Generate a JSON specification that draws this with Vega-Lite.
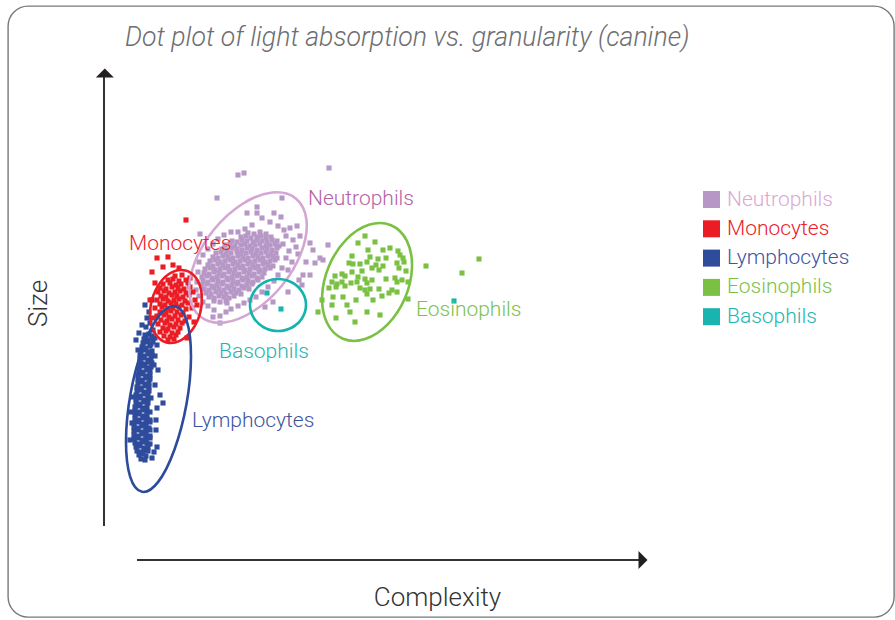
{
  "$schema": "https://vega.github.io/schema/vega-lite/v6.json",
  "width": 886,
  "height": 611,
  "autosize": {"type": "none"},
  "padding": {"left": 8, "top": 6, "right": 1, "bottom": 3},
  "title": {"text": "Dot plot of light absorption vs. granularity (canine)", "anchor": "start", "frame": "group", "dx": 117, "offset": -66.5, "baseline": "alphabetic", "font": "Roboto", "fontStyle": "italic", "fontWeight": 300, "fontSize": 26.7, "color": "#6d6e71"},
  "config": {"view": {"stroke": "#737a7f", "strokeWidth": 1.4, "cornerRadius": 20}, "font": "Roboto"},
  "datasets": {
    "cells": [
      {"cell":"Neutrophils","x":148,"y":327},{"cell":"Neutrophils","x":154,"y":326},{"cell":"Neutrophils","x":160,"y":328},{"cell":"Neutrophils","x":166,"y":326},
      {"cell":"Neutrophils","x":141,"y":323},{"cell":"Neutrophils","x":146,"y":324},{"cell":"Neutrophils","x":151,"y":322},{"cell":"Neutrophils","x":157,"y":323},{"cell":"Neutrophils","x":161,"y":324},{"cell":"Neutrophils","x":166,"y":322},{"cell":"Neutrophils","x":171,"y":323},
      {"cell":"Neutrophils","x":132,"y":319},{"cell":"Neutrophils","x":137,"y":318},{"cell":"Neutrophils","x":142,"y":320},{"cell":"Neutrophils","x":147,"y":319},{"cell":"Neutrophils","x":153,"y":318},{"cell":"Neutrophils","x":157,"y":320},{"cell":"Neutrophils","x":162,"y":319},{"cell":"Neutrophils","x":167,"y":318},{"cell":"Neutrophils","x":172,"y":320},{"cell":"Neutrophils","x":177,"y":319},
      {"cell":"Neutrophils","x":125,"y":315},{"cell":"Neutrophils","x":130,"y":316},{"cell":"Neutrophils","x":135,"y":314},{"cell":"Neutrophils","x":141,"y":315},{"cell":"Neutrophils","x":145,"y":316},{"cell":"Neutrophils","x":150,"y":314},{"cell":"Neutrophils","x":155,"y":315},{"cell":"Neutrophils","x":160,"y":316},{"cell":"Neutrophils","x":166,"y":314},{"cell":"Neutrophils","x":170,"y":315},{"cell":"Neutrophils","x":175,"y":316},{"cell":"Neutrophils","x":179,"y":314},
      {"cell":"Neutrophils","x":122,"y":311},{"cell":"Neutrophils","x":127,"y":310},{"cell":"Neutrophils","x":132,"y":312},{"cell":"Neutrophils","x":137,"y":311},{"cell":"Neutrophils","x":142,"y":310},{"cell":"Neutrophils","x":147,"y":312},{"cell":"Neutrophils","x":152,"y":311},{"cell":"Neutrophils","x":157,"y":310},{"cell":"Neutrophils","x":162,"y":312},{"cell":"Neutrophils","x":167,"y":311},{"cell":"Neutrophils","x":172,"y":310},{"cell":"Neutrophils","x":177,"y":312},
      {"cell":"Neutrophils","x":116,"y":307},{"cell":"Neutrophils","x":121,"y":308},{"cell":"Neutrophils","x":126,"y":306},{"cell":"Neutrophils","x":131,"y":307},{"cell":"Neutrophils","x":137,"y":308},{"cell":"Neutrophils","x":141,"y":306},{"cell":"Neutrophils","x":146,"y":307},{"cell":"Neutrophils","x":151,"y":308},{"cell":"Neutrophils","x":156,"y":306},{"cell":"Neutrophils","x":161,"y":307},{"cell":"Neutrophils","x":166,"y":308},{"cell":"Neutrophils","x":171,"y":306},{"cell":"Neutrophils","x":176,"y":307},
      {"cell":"Neutrophils","x":113,"y":303},{"cell":"Neutrophils","x":118,"y":302},{"cell":"Neutrophils","x":123,"y":304},{"cell":"Neutrophils","x":128,"y":303},{"cell":"Neutrophils","x":133,"y":302},{"cell":"Neutrophils","x":138,"y":304},{"cell":"Neutrophils","x":143,"y":303},{"cell":"Neutrophils","x":148,"y":302},{"cell":"Neutrophils","x":153,"y":304},{"cell":"Neutrophils","x":158,"y":303},{"cell":"Neutrophils","x":163,"y":302},{"cell":"Neutrophils","x":168,"y":304},{"cell":"Neutrophils","x":173,"y":303},{"cell":"Neutrophils","x":177,"y":302},
      {"cell":"Neutrophils","x":110,"y":299},{"cell":"Neutrophils","x":115,"y":300},{"cell":"Neutrophils","x":120,"y":298},{"cell":"Neutrophils","x":125,"y":299},{"cell":"Neutrophils","x":130,"y":300},{"cell":"Neutrophils","x":135,"y":298},{"cell":"Neutrophils","x":140,"y":299},{"cell":"Neutrophils","x":145,"y":300},{"cell":"Neutrophils","x":150,"y":298},{"cell":"Neutrophils","x":155,"y":299},{"cell":"Neutrophils","x":160,"y":300},{"cell":"Neutrophils","x":165,"y":298},{"cell":"Neutrophils","x":170,"y":299},{"cell":"Neutrophils","x":175,"y":300},
      {"cell":"Neutrophils","x":108,"y":295},{"cell":"Neutrophils","x":113,"y":294},{"cell":"Neutrophils","x":118,"y":296},{"cell":"Neutrophils","x":123,"y":295},{"cell":"Neutrophils","x":128,"y":294},{"cell":"Neutrophils","x":133,"y":296},{"cell":"Neutrophils","x":138,"y":295},{"cell":"Neutrophils","x":143,"y":294},{"cell":"Neutrophils","x":148,"y":296},{"cell":"Neutrophils","x":153,"y":295},{"cell":"Neutrophils","x":158,"y":294},{"cell":"Neutrophils","x":163,"y":296},{"cell":"Neutrophils","x":168,"y":295},{"cell":"Neutrophils","x":173,"y":294},
      {"cell":"Neutrophils","x":105,"y":291},{"cell":"Neutrophils","x":110,"y":292},{"cell":"Neutrophils","x":115,"y":290},{"cell":"Neutrophils","x":120,"y":291},{"cell":"Neutrophils","x":125,"y":292},{"cell":"Neutrophils","x":130,"y":290},{"cell":"Neutrophils","x":135,"y":291},{"cell":"Neutrophils","x":140,"y":292},{"cell":"Neutrophils","x":145,"y":290},{"cell":"Neutrophils","x":150,"y":291},{"cell":"Neutrophils","x":155,"y":292},{"cell":"Neutrophils","x":160,"y":290},{"cell":"Neutrophils","x":165,"y":291},{"cell":"Neutrophils","x":170,"y":292},
      {"cell":"Neutrophils","x":104,"y":287},{"cell":"Neutrophils","x":109,"y":286},{"cell":"Neutrophils","x":114,"y":288},{"cell":"Neutrophils","x":119,"y":287},{"cell":"Neutrophils","x":124,"y":286},{"cell":"Neutrophils","x":129,"y":288},{"cell":"Neutrophils","x":134,"y":287},{"cell":"Neutrophils","x":139,"y":286},{"cell":"Neutrophils","x":144,"y":288},{"cell":"Neutrophils","x":149,"y":287},{"cell":"Neutrophils","x":154,"y":286},{"cell":"Neutrophils","x":159,"y":288},{"cell":"Neutrophils","x":164,"y":287},
      {"cell":"Neutrophils","x":102,"y":283},{"cell":"Neutrophils","x":107,"y":284},{"cell":"Neutrophils","x":112,"y":282},{"cell":"Neutrophils","x":117,"y":283},{"cell":"Neutrophils","x":122,"y":284},{"cell":"Neutrophils","x":127,"y":282},{"cell":"Neutrophils","x":132,"y":283},{"cell":"Neutrophils","x":137,"y":284},{"cell":"Neutrophils","x":142,"y":282},{"cell":"Neutrophils","x":147,"y":283},{"cell":"Neutrophils","x":152,"y":284},{"cell":"Neutrophils","x":157,"y":282},{"cell":"Neutrophils","x":162,"y":283},
      {"cell":"Neutrophils","x":103,"y":279},{"cell":"Neutrophils","x":108,"y":278},{"cell":"Neutrophils","x":113,"y":280},{"cell":"Neutrophils","x":118,"y":279},{"cell":"Neutrophils","x":123,"y":278},{"cell":"Neutrophils","x":128,"y":280},{"cell":"Neutrophils","x":133,"y":279},{"cell":"Neutrophils","x":138,"y":278},{"cell":"Neutrophils","x":143,"y":280},{"cell":"Neutrophils","x":148,"y":279},{"cell":"Neutrophils","x":153,"y":278},{"cell":"Neutrophils","x":158,"y":280},
      {"cell":"Neutrophils","x":102,"y":275},{"cell":"Neutrophils","x":107,"y":276},{"cell":"Neutrophils","x":112,"y":274},{"cell":"Neutrophils","x":117,"y":275},{"cell":"Neutrophils","x":122,"y":276},{"cell":"Neutrophils","x":127,"y":274},{"cell":"Neutrophils","x":132,"y":275},{"cell":"Neutrophils","x":137,"y":276},{"cell":"Neutrophils","x":142,"y":274},{"cell":"Neutrophils","x":147,"y":275},{"cell":"Neutrophils","x":152,"y":276},
      {"cell":"Neutrophils","x":104,"y":271},{"cell":"Neutrophils","x":109,"y":270},{"cell":"Neutrophils","x":114,"y":272},{"cell":"Neutrophils","x":119,"y":271},{"cell":"Neutrophils","x":124,"y":270},{"cell":"Neutrophils","x":129,"y":272},{"cell":"Neutrophils","x":134,"y":271},{"cell":"Neutrophils","x":139,"y":270},{"cell":"Neutrophils","x":144,"y":272},{"cell":"Neutrophils","x":149,"y":271},
      {"cell":"Neutrophils","x":106,"y":267},{"cell":"Neutrophils","x":111,"y":266},{"cell":"Neutrophils","x":116,"y":268},{"cell":"Neutrophils","x":121,"y":267},{"cell":"Neutrophils","x":126,"y":266},{"cell":"Neutrophils","x":131,"y":268},{"cell":"Neutrophils","x":136,"y":267},{"cell":"Neutrophils","x":141,"y":266},
      {"cell":"Neutrophils","x":109,"y":263},{"cell":"Neutrophils","x":114,"y":262},{"cell":"Neutrophils","x":119,"y":264},{"cell":"Neutrophils","x":124,"y":263},{"cell":"Neutrophils","x":129,"y":262},{"cell":"Neutrophils","x":134,"y":264},
      {"cell":"Neutrophils","x":114,"y":259},{"cell":"Neutrophils","x":120,"y":258},{"cell":"Neutrophils","x":126,"y":259},
      {"cell":"Neutrophils","x":162,"y":342},{"cell":"Neutrophils","x":170,"y":338},{"cell":"Neutrophils","x":178,"y":334},{"cell":"Neutrophils","x":184,"y":330},{"cell":"Neutrophils","x":190,"y":332},{"cell":"Neutrophils","x":186,"y":324},{"cell":"Neutrophils","x":193,"y":320},{"cell":"Neutrophils","x":196,"y":313},{"cell":"Neutrophils","x":189,"y":309},{"cell":"Neutrophils","x":183,"y":316},{"cell":"Neutrophils","x":200,"y":324},{"cell":"Neutrophils","x":197,"y":334},{"cell":"Neutrophils","x":181,"y":343},{"cell":"Neutrophils","x":152,"y":335},{"cell":"Neutrophils","x":145,"y":331},{"cell":"Neutrophils","x":138,"y":328},{"cell":"Neutrophils","x":157,"y":347},{"cell":"Neutrophils","x":174,"y":347},{"cell":"Neutrophils","x":198,"y":306},{"cell":"Neutrophils","x":192,"y":298},{"cell":"Neutrophils","x":186,"y":302},{"cell":"Neutrophils","x":182,"y":292},{"cell":"Neutrophils","x":178,"y":285},{"cell":"Neutrophils","x":188,"y":290},{"cell":"Neutrophils","x":174,"y":279},{"cell":"Neutrophils","x":168,"y":273},{"cell":"Neutrophils","x":162,"y":268},{"cell":"Neutrophils","x":156,"y":263},{"cell":"Neutrophils","x":150,"y":260},{"cell":"Neutrophils","x":144,"y":257},{"cell":"Neutrophils","x":138,"y":254},{"cell":"Neutrophils","x":131,"y":251},{"cell":"Neutrophils","x":126,"y":248},{"cell":"Neutrophils","x":120,"y":244},{"cell":"Neutrophils","x":99,"y":298},{"cell":"Neutrophils","x":103,"y":305},{"cell":"Neutrophils","x":108,"y":311},{"cell":"Neutrophils","x":113,"y":316},{"cell":"Neutrophils","x":118,"y":321},{"cell":"Neutrophils","x":124,"y":325},{"cell":"Neutrophils","x":131,"y":328},{"cell":"Neutrophils","x":98,"y":288},{"cell":"Neutrophils","x":97,"y":278},{"cell":"Neutrophils","x":96,"y":270},{"cell":"Neutrophils","x":99,"y":264},{"cell":"Neutrophils","x":103,"y":258},{"cell":"Neutrophils","x":108,"y":254},{"cell":"Neutrophils","x":114,"y":250},{"cell":"Neutrophils","x":127,"y":257},{"cell":"Neutrophils","x":113,"y":243},{"cell":"Neutrophils","x":120,"y":237},{"cell":"Neutrophils","x":165,"y":253},{"cell":"Neutrophils","x":188,"y":268},{"cell":"Neutrophils","x":202,"y":275},{"cell":"Neutrophils","x":203,"y":285},{"cell":"Neutrophils","x":199,"y":280},
      {"cell":"Neutrophils","x":138,"y":385},{"cell":"Neutrophils","x":144,"y":387},{"cell":"Neutrophils","x":229,"y":392},{"cell":"Neutrophils","x":117,"y":362},{"cell":"Neutrophils","x":182,"y":362},{"cell":"Neutrophils","x":157,"y":353},{"cell":"Neutrophils","x":147,"y":347},{"cell":"Neutrophils","x":213,"y":310},{"cell":"Neutrophils","x":223,"y":300},{"cell":"Neutrophils","x":210,"y":317},{"cell":"Neutrophils","x":228,"y":315},{"cell":"Neutrophils","x":220,"y":302},{"cell":"Neutrophils","x":215,"y":297},{"cell":"Neutrophils","x":210,"y":285},{"cell":"Neutrophils","x":100,"y":326},{"cell":"Neutrophils","x":206,"y":298},{"cell":"Neutrophils","x":173,"y":258},
      {"cell":"Eosinophils","x":265,"y":324},{"cell":"Eosinophils","x":268,"y":310},{"cell":"Eosinophils","x":283,"y":310},{"cell":"Eosinophils","x":290,"y":312},{"cell":"Eosinophils","x":298,"y":309},{"cell":"Eosinophils","x":300,"y":305},{"cell":"Eosinophils","x":270,"y":303},{"cell":"Eosinophils","x":278,"y":301},{"cell":"Eosinophils","x":286,"y":302},{"cell":"Eosinophils","x":303,"y":302},{"cell":"Eosinophils","x":304,"y":298},{"cell":"Eosinophils","x":249,"y":297},{"cell":"Eosinophils","x":253,"y":296},{"cell":"Eosinophils","x":260,"y":296},{"cell":"Eosinophils","x":267,"y":298},{"cell":"Eosinophils","x":272,"y":292},{"cell":"Eosinophils","x":276,"y":295},{"cell":"Eosinophils","x":279,"y":290},{"cell":"Eosinophils","x":283,"y":294},{"cell":"Eosinophils","x":297,"y":297},{"cell":"Eosinophils","x":299,"y":292},{"cell":"Eosinophils","x":306,"y":289},{"cell":"Eosinophils","x":262,"y":289},{"cell":"Eosinophils","x":252,"y":288},{"cell":"Eosinophils","x":242,"y":286},{"cell":"Eosinophils","x":235,"y":284},{"cell":"Eosinophils","x":245,"y":284},{"cell":"Eosinophils","x":258,"y":283},{"cell":"Eosinophils","x":265,"y":281},{"cell":"Eosinophils","x":267,"y":277},{"cell":"Eosinophils","x":272,"y":280},{"cell":"Eosinophils","x":286,"y":281},{"cell":"Eosinophils","x":295,"y":282},{"cell":"Eosinophils","x":297,"y":278},{"cell":"Eosinophils","x":302,"y":280},{"cell":"Eosinophils","x":308,"y":278},{"cell":"Eosinophils","x":232,"y":278},{"cell":"Eosinophils","x":237,"y":276},{"cell":"Eosinophils","x":242,"y":278},{"cell":"Eosinophils","x":245,"y":274},{"cell":"Eosinophils","x":251,"y":277},{"cell":"Eosinophils","x":257,"y":278},{"cell":"Eosinophils","x":260,"y":272},{"cell":"Eosinophils","x":265,"y":270},{"cell":"Eosinophils","x":270,"y":271},{"cell":"Eosinophils","x":279,"y":271},{"cell":"Eosinophils","x":292,"y":270},{"cell":"Eosinophils","x":297,"y":268},{"cell":"Eosinophils","x":236,"y":273},{"cell":"Eosinophils","x":229,"y":272},{"cell":"Eosinophils","x":233,"y":263},{"cell":"Eosinophils","x":243,"y":263},{"cell":"Eosinophils","x":256,"y":260},{"cell":"Eosinophils","x":267,"y":266},{"cell":"Eosinophils","x":273,"y":260},{"cell":"Eosinophils","x":282,"y":264},{"cell":"Eosinophils","x":289,"y":267},{"cell":"Eosinophils","x":222,"y":260},{"cell":"Eosinophils","x":232,"y":255},{"cell":"Eosinophils","x":247,"y":255},{"cell":"Eosinophils","x":218,"y":248},{"cell":"Eosinophils","x":267,"y":248},{"cell":"Eosinophils","x":308,"y":261},{"cell":"Eosinophils","x":326,"y":294},{"cell":"Eosinophils","x":362,"y":287},{"cell":"Eosinophils","x":379,"y":301},{"cell":"Eosinophils","x":236,"y":242},{"cell":"Eosinophils","x":255,"y":238},{"cell":"Eosinophils","x":280,"y":245},{"cell":"Eosinophils","x":250,"y":248},{"cell":"Eosinophils","x":258,"y":317},{"cell":"Eosinophils","x":275,"y":318},{"cell":"Eosinophils","x":252,"y":304},
      {"cell":"Lymphocytes","x":45,"y":225},{"cell":"Lymphocytes","x":49,"y":226},{"cell":"Lymphocytes","x":52,"y":224},
      {"cell":"Lymphocytes","x":44,"y":221},{"cell":"Lymphocytes","x":48,"y":220},{"cell":"Lymphocytes","x":52,"y":222},
      {"cell":"Lymphocytes","x":43,"y":217},{"cell":"Lymphocytes","x":47,"y":218},{"cell":"Lymphocytes","x":51,"y":216},
      {"cell":"Lymphocytes","x":42,"y":213},{"cell":"Lymphocytes","x":46,"y":212},{"cell":"Lymphocytes","x":50,"y":214},
      {"cell":"Lymphocytes","x":41,"y":209},{"cell":"Lymphocytes","x":45,"y":210},{"cell":"Lymphocytes","x":49,"y":208},{"cell":"Lymphocytes","x":52,"y":209},
      {"cell":"Lymphocytes","x":40,"y":205},{"cell":"Lymphocytes","x":44,"y":204},{"cell":"Lymphocytes","x":48,"y":206},{"cell":"Lymphocytes","x":52,"y":205},
      {"cell":"Lymphocytes","x":40,"y":201},{"cell":"Lymphocytes","x":44,"y":202},{"cell":"Lymphocytes","x":48,"y":200},{"cell":"Lymphocytes","x":51,"y":201},
      {"cell":"Lymphocytes","x":41,"y":197},{"cell":"Lymphocytes","x":45,"y":196},{"cell":"Lymphocytes","x":49,"y":198},{"cell":"Lymphocytes","x":52,"y":197},
      {"cell":"Lymphocytes","x":39,"y":193},{"cell":"Lymphocytes","x":43,"y":194},{"cell":"Lymphocytes","x":47,"y":192},{"cell":"Lymphocytes","x":51,"y":193},
      {"cell":"Lymphocytes","x":39,"y":189},{"cell":"Lymphocytes","x":43,"y":188},{"cell":"Lymphocytes","x":47,"y":190},{"cell":"Lymphocytes","x":50,"y":189},
      {"cell":"Lymphocytes","x":38,"y":185},{"cell":"Lymphocytes","x":42,"y":186},{"cell":"Lymphocytes","x":46,"y":184},{"cell":"Lymphocytes","x":50,"y":185},
      {"cell":"Lymphocytes","x":38,"y":181},{"cell":"Lymphocytes","x":42,"y":180},{"cell":"Lymphocytes","x":46,"y":182},{"cell":"Lymphocytes","x":50,"y":181},
      {"cell":"Lymphocytes","x":38,"y":177},{"cell":"Lymphocytes","x":42,"y":178},{"cell":"Lymphocytes","x":46,"y":176},{"cell":"Lymphocytes","x":49,"y":177},
      {"cell":"Lymphocytes","x":37,"y":173},{"cell":"Lymphocytes","x":41,"y":172},{"cell":"Lymphocytes","x":45,"y":174},{"cell":"Lymphocytes","x":49,"y":173},
      {"cell":"Lymphocytes","x":37,"y":169},{"cell":"Lymphocytes","x":41,"y":170},{"cell":"Lymphocytes","x":45,"y":168},{"cell":"Lymphocytes","x":49,"y":169},
      {"cell":"Lymphocytes","x":36,"y":165},{"cell":"Lymphocytes","x":40,"y":164},{"cell":"Lymphocytes","x":44,"y":166},{"cell":"Lymphocytes","x":48,"y":165},
      {"cell":"Lymphocytes","x":36,"y":161},{"cell":"Lymphocytes","x":40,"y":162},{"cell":"Lymphocytes","x":44,"y":160},{"cell":"Lymphocytes","x":48,"y":161},{"cell":"Lymphocytes","x":51,"y":162},
      {"cell":"Lymphocytes","x":36,"y":157},{"cell":"Lymphocytes","x":40,"y":156},{"cell":"Lymphocytes","x":44,"y":158},{"cell":"Lymphocytes","x":48,"y":157},
      {"cell":"Lymphocytes","x":35,"y":153},{"cell":"Lymphocytes","x":39,"y":154},{"cell":"Lymphocytes","x":43,"y":152},{"cell":"Lymphocytes","x":47,"y":153},
      {"cell":"Lymphocytes","x":35,"y":149},{"cell":"Lymphocytes","x":39,"y":148},{"cell":"Lymphocytes","x":43,"y":150},{"cell":"Lymphocytes","x":47,"y":149},{"cell":"Lymphocytes","x":50,"y":148},
      {"cell":"Lymphocytes","x":35,"y":145},{"cell":"Lymphocytes","x":39,"y":146},{"cell":"Lymphocytes","x":43,"y":144},{"cell":"Lymphocytes","x":47,"y":145},
      {"cell":"Lymphocytes","x":35,"y":141},{"cell":"Lymphocytes","x":39,"y":140},{"cell":"Lymphocytes","x":43,"y":142},{"cell":"Lymphocytes","x":47,"y":141},{"cell":"Lymphocytes","x":50,"y":140},
      {"cell":"Lymphocytes","x":34,"y":137},{"cell":"Lymphocytes","x":38,"y":138},{"cell":"Lymphocytes","x":42,"y":136},{"cell":"Lymphocytes","x":46,"y":137},{"cell":"Lymphocytes","x":50,"y":138},
      {"cell":"Lymphocytes","x":34,"y":133},{"cell":"Lymphocytes","x":38,"y":132},{"cell":"Lymphocytes","x":42,"y":134},{"cell":"Lymphocytes","x":46,"y":133},{"cell":"Lymphocytes","x":49,"y":132},
      {"cell":"Lymphocytes","x":34,"y":129},{"cell":"Lymphocytes","x":38,"y":130},{"cell":"Lymphocytes","x":42,"y":128},{"cell":"Lymphocytes","x":46,"y":129},{"cell":"Lymphocytes","x":50,"y":130},
      {"cell":"Lymphocytes","x":34,"y":125},{"cell":"Lymphocytes","x":38,"y":124},{"cell":"Lymphocytes","x":42,"y":126},{"cell":"Lymphocytes","x":46,"y":125},{"cell":"Lymphocytes","x":50,"y":124},
      {"cell":"Lymphocytes","x":34,"y":121},{"cell":"Lymphocytes","x":38,"y":122},{"cell":"Lymphocytes","x":42,"y":120},{"cell":"Lymphocytes","x":46,"y":121},{"cell":"Lymphocytes","x":50,"y":122},
      {"cell":"Lymphocytes","x":35,"y":117},{"cell":"Lymphocytes","x":39,"y":116},{"cell":"Lymphocytes","x":43,"y":118},{"cell":"Lymphocytes","x":47,"y":117},{"cell":"Lymphocytes","x":50,"y":116},
      {"cell":"Lymphocytes","x":36,"y":113},{"cell":"Lymphocytes","x":40,"y":114},{"cell":"Lymphocytes","x":44,"y":112},{"cell":"Lymphocytes","x":48,"y":113},
      {"cell":"Lymphocytes","x":37,"y":109},{"cell":"Lymphocytes","x":41,"y":108},{"cell":"Lymphocytes","x":45,"y":110},{"cell":"Lymphocytes","x":48,"y":109},
      {"cell":"Lymphocytes","x":39,"y":105},{"cell":"Lymphocytes","x":43,"y":106},{"cell":"Lymphocytes","x":46,"y":104},
      {"cell":"Lymphocytes","x":47,"y":242},{"cell":"Lymphocytes","x":50,"y":237},{"cell":"Lymphocytes","x":46,"y":233},{"cell":"Lymphocytes","x":53,"y":230},{"cell":"Lymphocytes","x":55,"y":222},{"cell":"Lymphocytes","x":57,"y":215},{"cell":"Lymphocytes","x":38,"y":210},{"cell":"Lymphocytes","x":55,"y":204},{"cell":"Lymphocytes","x":58,"y":190},{"cell":"Lymphocytes","x":60,"y":165},{"cell":"Lymphocytes","x":63,"y":157},{"cell":"Lymphocytes","x":57,"y":152},{"cell":"Lymphocytes","x":33,"y":163},{"cell":"Lymphocytes","x":32,"y":137},{"cell":"Lymphocytes","x":31,"y":148},{"cell":"Lymphocytes","x":56,"y":130},{"cell":"Lymphocytes","x":57,"y":113},{"cell":"Lymphocytes","x":54,"y":108},{"cell":"Lymphocytes","x":45,"y":100},{"cell":"Lymphocytes","x":52,"y":102},{"cell":"Lymphocytes","x":41,"y":101},{"cell":"Lymphocytes","x":30,"y":120},{"cell":"Lymphocytes","x":56,"y":140},{"cell":"Lymphocytes","x":55,"y":175},{"cell":"Lymphocytes","x":54,"y":195},{"cell":"Lymphocytes","x":52,"y":260},{"cell":"Lymphocytes","x":42,"y":235},{"cell":"Lymphocytes","x":39,"y":227},{"cell":"Lymphocytes","x":36,"y":220},{"cell":"Lymphocytes","x":49,"y":248},{"cell":"Lymphocytes","x":45,"y":255},{"cell":"Lymphocytes","x":53,"y":218},
      {"cell":"Monocytes","x":75,"y":284},{"cell":"Monocytes","x":82,"y":285},
      {"cell":"Monocytes","x":68,"y":280},{"cell":"Monocytes","x":73,"y":281},{"cell":"Monocytes","x":79,"y":279},{"cell":"Monocytes","x":86,"y":280},
      {"cell":"Monocytes","x":63,"y":276},{"cell":"Monocytes","x":70,"y":277},{"cell":"Monocytes","x":76,"y":275},{"cell":"Monocytes","x":81,"y":276},{"cell":"Monocytes","x":88,"y":277},
      {"cell":"Monocytes","x":60,"y":272},{"cell":"Monocytes","x":66,"y":271},{"cell":"Monocytes","x":72,"y":273},{"cell":"Monocytes","x":78,"y":272},{"cell":"Monocytes","x":84,"y":271},{"cell":"Monocytes","x":90,"y":273},
      {"cell":"Monocytes","x":58,"y":268},{"cell":"Monocytes","x":64,"y":269},{"cell":"Monocytes","x":69,"y":267},{"cell":"Monocytes","x":75,"y":268},{"cell":"Monocytes","x":80,"y":269},{"cell":"Monocytes","x":86,"y":267},{"cell":"Monocytes","x":93,"y":268},
      {"cell":"Monocytes","x":61,"y":264},{"cell":"Monocytes","x":66,"y":263},{"cell":"Monocytes","x":72,"y":265},{"cell":"Monocytes","x":77,"y":264},{"cell":"Monocytes","x":83,"y":263},{"cell":"Monocytes","x":89,"y":265},
      {"cell":"Monocytes","x":57,"y":260},{"cell":"Monocytes","x":63,"y":261},{"cell":"Monocytes","x":68,"y":259},{"cell":"Monocytes","x":74,"y":260},{"cell":"Monocytes","x":79,"y":261},{"cell":"Monocytes","x":85,"y":259},{"cell":"Monocytes","x":95,"y":260},
      {"cell":"Monocytes","x":60,"y":256},{"cell":"Monocytes","x":65,"y":255},{"cell":"Monocytes","x":71,"y":257},{"cell":"Monocytes","x":76,"y":256},{"cell":"Monocytes","x":82,"y":255},{"cell":"Monocytes","x":88,"y":257},
      {"cell":"Monocytes","x":55,"y":252},{"cell":"Monocytes","x":62,"y":253},{"cell":"Monocytes","x":68,"y":251},{"cell":"Monocytes","x":73,"y":252},{"cell":"Monocytes","x":79,"y":253},{"cell":"Monocytes","x":86,"y":251},{"cell":"Monocytes","x":92,"y":252},
      {"cell":"Monocytes","x":60,"y":248},{"cell":"Monocytes","x":66,"y":247},{"cell":"Monocytes","x":71,"y":249},{"cell":"Monocytes","x":77,"y":248},{"cell":"Monocytes","x":83,"y":247},
      {"cell":"Monocytes","x":57,"y":244},{"cell":"Monocytes","x":64,"y":245},{"cell":"Monocytes","x":69,"y":243},{"cell":"Monocytes","x":75,"y":244},{"cell":"Monocytes","x":81,"y":245},{"cell":"Monocytes","x":89,"y":243},
      {"cell":"Monocytes","x":61,"y":240},{"cell":"Monocytes","x":67,"y":239},{"cell":"Monocytes","x":72,"y":241},{"cell":"Monocytes","x":78,"y":240},{"cell":"Monocytes","x":85,"y":239},
      {"cell":"Monocytes","x":58,"y":236},{"cell":"Monocytes","x":65,"y":237},{"cell":"Monocytes","x":70,"y":235},{"cell":"Monocytes","x":76,"y":236},{"cell":"Monocytes","x":82,"y":237},
      {"cell":"Monocytes","x":63,"y":232},{"cell":"Monocytes","x":68,"y":231},{"cell":"Monocytes","x":74,"y":233},{"cell":"Monocytes","x":80,"y":232},
      {"cell":"Monocytes","x":60,"y":228},{"cell":"Monocytes","x":66,"y":229},{"cell":"Monocytes","x":72,"y":227},{"cell":"Monocytes","x":78,"y":228},
      {"cell":"Monocytes","x":64,"y":224},{"cell":"Monocytes","x":70,"y":223},{"cell":"Monocytes","x":76,"y":225},
      {"cell":"Monocytes","x":68,"y":220},{"cell":"Monocytes","x":74,"y":221},
      {"cell":"Monocytes","x":86,"y":340},{"cell":"Monocytes","x":57,"y":302},{"cell":"Monocytes","x":68,"y":303},{"cell":"Monocytes","x":73,"y":295},{"cell":"Monocytes","x":79,"y":292},{"cell":"Monocytes","x":63,"y":293},{"cell":"Monocytes","x":52,"y":288},{"cell":"Monocytes","x":55,"y":277},{"cell":"Monocytes","x":94,"y":238},{"cell":"Monocytes","x":97,"y":255},{"cell":"Monocytes","x":87,"y":222},{"cell":"Monocytes","x":50,"y":260},{"cell":"Monocytes","x":90,"y":282},{"cell":"Monocytes","x":53,"y":242},
      {"cell":"Basophils","x":167,"y":267},{"cell":"Basophils","x":181,"y":251},{"cell":"Basophils","x":354,"y":259}
    ],
    "gates": [
      {"cell":"Neutrophils","i":0,"x":195.8,"y":361.6},{"cell":"Neutrophils","i":1,"x":206.5,"y":339.8},{"cell":"Neutrophils","i":2,"x":201.5,"y":308.1},{"cell":"Neutrophils","i":3,"x":182.2,"y":274.8},{"cell":"Neutrophils","i":4,"x":153.7,"y":249.0},{"cell":"Neutrophils","i":5,"x":123.7,"y":237.4},{"cell":"Neutrophils","i":6,"x":100.2,"y":243.4},{"cell":"Neutrophils","i":7,"x":89.5,"y":265.1},{"cell":"Neutrophils","i":8,"x":94.5,"y":296.9},{"cell":"Neutrophils","i":9,"x":113.8,"y":330.2},{"cell":"Neutrophils","i":10,"x":142.3,"y":356.0},{"cell":"Neutrophils","i":11,"x":172.3,"y":367.5},
      {"cell":"Monocytes","i":0,"x":85.6,"y":289.4},{"cell":"Monocytes","i":1,"x":96.4,"y":281.4},{"cell":"Monocytes","i":2,"x":101.7,"y":265.9},{"cell":"Monocytes","i":3,"x":100.2,"y":247.0},{"cell":"Monocytes","i":4,"x":92.1,"y":230.0},{"cell":"Monocytes","i":5,"x":79.8,"y":219.2},{"cell":"Monocytes","i":6,"x":66.4,"y":217.6},{"cell":"Monocytes","i":7,"x":55.6,"y":225.7},{"cell":"Monocytes","i":8,"x":50.3,"y":241.2},{"cell":"Monocytes","i":9,"x":51.9,"y":260.0},{"cell":"Monocytes","i":10,"x":59.9,"y":277.1},{"cell":"Monocytes","i":11,"x":72.2,"y":287.9},
      {"cell":"Lymphocytes","i":0,"x":75.0,"y":253.8},{"cell":"Lymphocytes","i":1,"x":86.8,"y":238.9},{"cell":"Lymphocytes","i":2,"x":91.0,"y":203.1},{"cell":"Lymphocytes","i":3,"x":86.5,"y":156.0},{"cell":"Lymphocytes","i":4,"x":74.4,"y":110.3},{"cell":"Lymphocytes","i":5,"x":58.2,"y":78.1},{"cell":"Lymphocytes","i":6,"x":42.0,"y":68.2},{"cell":"Lymphocytes","i":7,"x":30.2,"y":83.1},{"cell":"Lymphocytes","i":8,"x":26.0,"y":118.9},{"cell":"Lymphocytes","i":9,"x":30.5,"y":166.0},{"cell":"Lymphocytes","i":10,"x":42.6,"y":211.7},{"cell":"Lymphocytes","i":11,"x":58.8,"y":243.9},
      {"cell":"Basophils","i":0,"x":206,"y":255},{"cell":"Basophils","i":1,"x":202.2,"y":268},{"cell":"Basophils","i":2,"x":192,"y":277.5},{"cell":"Basophils","i":3,"x":178,"y":281},{"cell":"Basophils","i":4,"x":164,"y":277.5},{"cell":"Basophils","i":5,"x":153.8,"y":268},{"cell":"Basophils","i":6,"x":150,"y":255},{"cell":"Basophils","i":7,"x":153.8,"y":242},{"cell":"Basophils","i":8,"x":164,"y":232.5},{"cell":"Basophils","i":9,"x":178,"y":229},{"cell":"Basophils","i":10,"x":192,"y":232.5},{"cell":"Basophils","i":11,"x":202.2,"y":242},
      {"cell":"Eosinophils","i":0,"x":291.1,"y":334.7},{"cell":"Eosinophils","i":1,"x":306.9,"y":319.1},{"cell":"Eosinophils","i":2,"x":312.0,"y":292.5},{"cell":"Eosinophils","i":3,"x":305.0,"y":261.9},{"cell":"Eosinophils","i":4,"x":287.9,"y":235.8},{"cell":"Eosinophils","i":5,"x":265.1,"y":220.9},{"cell":"Eosinophils","i":6,"x":242.9,"y":221.3},{"cell":"Eosinophils","i":7,"x":227.1,"y":237.0},{"cell":"Eosinophils","i":8,"x":222.1,"y":263.6},{"cell":"Eosinophils","i":9,"x":229.0,"y":294.1},{"cell":"Eosinophils","i":10,"x":246.2,"y":320.3},{"cell":"Eosinophils","i":11,"x":268.9,"y":335.2}
    ],
    "labels": [
      {"cell":"Neutrophils","label":"Neutrophils","x":208,"y":355},
      {"cell":"Monocytes","label":"Monocytes","x":29,"y":310},
      {"cell":"Basophils","label":"Basophils","x":119,"y":202},
      {"cell":"Lymphocytes","label":"Lymphocytes","x":92,"y":133},
      {"cell":"Eosinophils","label":"Eosinophils","x":316,"y":244}
    ],
    "arrows": [
      {"axis":"x","x":37,"y":0,"x2":539,"y2":0},
      {"axis":"y","x":4,"y":34,"x2":4,"y2":483}
    ],
    "heads": [
      {"axis":"x","x":543,"y":0},
      {"axis":"y","x":4.8,"y":487}
    ]
  },
  "encoding": {
    "x": {"field": "x", "type": "quantitative", "scale": {"domain": [-92, 794], "nice": false, "zero": false},
      "axis": {"title": "Complexity", "domain": false, "ticks": false, "labels": false, "grid": false, "titleX": 429, "titleY": -12, "titleAlign": "center", "titleBaseline": "alphabetic", "titleFont": "Roboto", "titleFontWeight": 300, "titleFontSize": 26, "titleColor": "#333333"}},
    "y": {"field": "y", "type": "quantitative", "scale": {"domain": [-57, 554], "nice": false, "zero": false},
      "axis": {"title": "Size", "domain": false, "ticks": false, "labels": false, "grid": false, "titleX": 30, "titleY": 297, "titleAngle": -90, "titleAlign": "center", "titleBaseline": "middle", "titleFont": "Roboto", "titleFontWeight": 300, "titleFontSize": 26, "titleColor": "#333333"}}
  },
  "layer": [
    {
      "data": {"name": "cells"},
      "mark": {"type": "point", "shape": "square", "filled": true, "size": 26, "opacity": 1, "strokeWidth": 0},
      "encoding": {
        "color": {"field": "cell", "type": "nominal",
          "scale": {"domain": ["Neutrophils", "Monocytes", "Lymphocytes", "Eosinophils", "Basophils"], "range": ["#b797c6", "#ec1c24", "#2f4b9c", "#7ac143", "#19b4b0"]},
          "legend": {"orient": "none", "legendX": 693, "legendY": 183, "title": null, "symbolType": "square", "symbolSize": 289, "symbolStrokeWidth": 0, "symbolOpacity": 1, "labelFont": "Roboto", "labelFontWeight": 300, "labelFontSize": 21, "labelOffset": 5, "rowPadding": 7.3, "padding": 0,
            "encode": {
              "symbols": {"update": {"fill": {"signal": "datum.value === 'Neutrophils' ? '#b6519f' : datum.value === 'Monocytes' ? '#ec1c24' : datum.value === 'Lymphocytes' ? '#2f4b9c' : datum.value === 'Eosinophils' ? '#7ac143' : '#19b4b0'"}, "stroke": {"value": null}}},
              "labels": {"update": {"fill": {"signal": "datum.value === 'Neutrophils' ? '#dba8d3' : datum.value === 'Monocytes' ? '#ec2027' : datum.value === 'Lymphocytes' ? '#3c54a3' : datum.value === 'Eosinophils' ? '#7cc14a' : '#1fb5b1'"}}}
            }}}
      }
    },
    {
      "data": {"name": "gates"},
      "mark": {"type": "line", "interpolate": "cardinal-closed", "strokeWidth": 2.6},
      "encoding": {
        "stroke": {"field": "cell", "type": "nominal", "legend": null,
          "scale": {"domain": ["Neutrophils", "Monocytes", "Lymphocytes", "Eosinophils", "Basophils"], "range": ["#d4a6d3", "#ec1c24", "#2c4b9b", "#7ac143", "#16b2ae"]}},
        "order": {"field": "i", "type": "quantitative"}
      }
    },
    {
      "data": {"name": "labels"},
      "mark": {"type": "text", "align": "left", "baseline": "alphabetic", "font": "Roboto", "fontWeight": 300, "fontSize": 21},
      "encoding": {
        "text": {"field": "label"},
        "fill": {"field": "cell", "type": "nominal", "legend": null,
          "scale": {"domain": ["Neutrophils", "Monocytes", "Lymphocytes", "Eosinophils", "Basophils"], "range": ["#b45fa6", "#ec2027", "#3c54a3", "#7cc14a", "#22b5b1"]}}
      }
    },
    {
      "data": {"name": "arrows"},
      "mark": {"type": "rule", "strokeWidth": 2, "color": "#333333"},
      "encoding": {"x2": {"field": "x2"}, "y2": {"field": "y2"}}
    },
    {
      "data": {"name": "heads"},
      "mark": {"type": "point", "filled": true, "size": 324, "opacity": 1, "color": "#231f20", "strokeWidth": 0},
      "encoding": {
        "shape": {"field": "axis", "type": "nominal", "legend": null,
          "scale": {"domain": ["x", "y"], "range": ["M -0.5 -1 L 0.5 0 L -0.5 1 Z", "M -1 0.5 L 0 -0.5 L 1 0.5 Z"]}}
      }
    }
  ]
}
